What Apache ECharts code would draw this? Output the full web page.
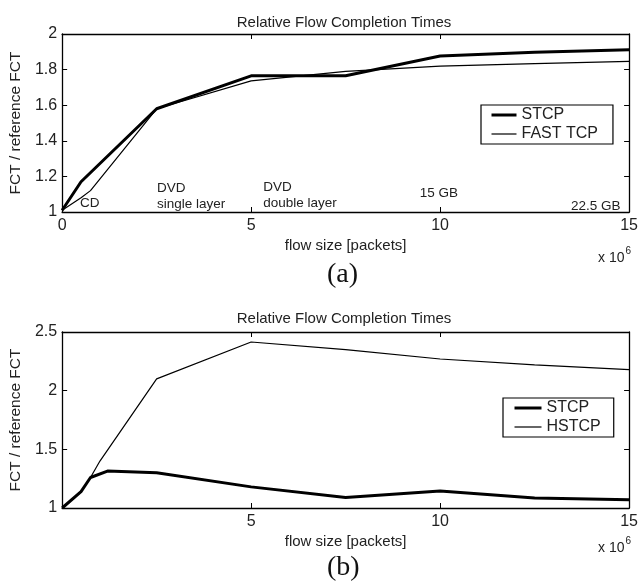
<!DOCTYPE html>
<html>
<head>
<meta charset="utf-8">
<script src="https://cdn.jsdelivr.net/npm/echarts@6/dist/echarts.min.js"></script>
<style>
html,body{margin:0;padding:0;background:#fff;}
#chart{width:641px;height:585px;}
</style>
</head>
<body>
<div id="chart"></div>
<script>
// ---- data (x in units of 10^6 packets) ----
var titleText = 'Relative Flow Completion Times';
var xName = 'flow size [packets]';
var yName = 'FCT / reference FCT';
var stcpA = [[0,1.01],[0.5,1.17],[2.5,1.58],[5,1.765],[7.5,1.765],[10,1.876],[12.5,1.897],[15,1.912]];
var fastA = [[0,1.01],[0.5,1.08],[0.75,1.12],[2.5,1.58],[5,1.737],[7.5,1.79],[10,1.82],[12.5,1.834],[15,1.846]];
var stcpB = [[0,1.0],[0.5,1.14],[0.75,1.26],[1.2,1.315],[2.5,1.30],[5,1.18],[7.5,1.09],[10,1.145],[12.5,1.085],[15,1.07]];
var hstcpB = [[0,1.0],[0.5,1.14],[0.75,1.26],[1.0,1.40],[2.5,2.10],[5,2.415],[7.5,2.35],[10,2.27],[12.5,2.22],[15,2.18]];
var namesA = ['STCP','FAST TCP'];
var namesB = ['STCP','HSTCP'];
var annotationsA = [
  {text:'CD', x:0.47, y:1.05},
  {text:'DVD\nsingle layer', x:2.51, y:1.09},
  {text:'DVD\ndouble layer', x:5.32, y:1.092},
  {text:'15 GB', x:9.46, y:1.106},
  {text:'22.5 GB', x:13.46, y:1.03}
];
var panelLabels = ['(a)','(b)'];

var FONT = '"Liberation Sans", Arial, Helvetica, sans-serif';
var SERIF = '"Liberation Serif", "Times New Roman", serif';
var TXT = '#222';
var THICK = 3, THIN = 1.2;
var chart = echarts.init(document.getElementById('chart'), null, {renderer:'canvas'});

function xAxes(gi, hideZero){
  return [{
    type:'value', gridIndex:gi, min:0, max:15, interval:5, position:'bottom',
    name: xName, nameLocation:'middle', nameGap:26,
    nameTextStyle:{fontFamily:FONT, fontSize:15, color:TXT},
    axisLine:{show:true, onZero:false, lineStyle:{color:'#000', width:1.3}},
    axisTick:{show:true, inside:true, length:5, lineStyle:{color:'#000'}},
    axisLabel:{fontFamily:FONT, fontSize:16, color:TXT, margin:6,
      formatter:function(v){ return (hideZero && v===0) ? '' : String(v); }},
    splitLine:{show:false}
  },{
    type:'value', gridIndex:gi, min:0, max:15, interval:5, position:'top',
    axisLine:{show:true, onZero:false, lineStyle:{color:'#000', width:1.3}},
    axisTick:{show:true, inside:true, length:5, lineStyle:{color:'#000'}},
    axisLabel:{show:false}, splitLine:{show:false}
  }];
}
function yAxes(gi, min, max, interval){
  return [{
    type:'value', gridIndex:gi, min:min, max:max, interval:interval, position:'left',
    name: yName, nameLocation:'middle', nameGap:34, nameRotate:90,
    nameTextStyle:{fontFamily:FONT, fontSize:15.5, color:TXT},
    axisLine:{show:true, onZero:false, lineStyle:{color:'#000', width:1.3}},
    axisTick:{show:true, inside:true, length:5, lineStyle:{color:'#000'}},
    axisLabel:{fontFamily:FONT, fontSize:16, color:TXT, margin:5,
      formatter:function(v){ return String(Math.round(v*10)/10); }},
    splitLine:{show:false}
  },{
    type:'value', gridIndex:gi, min:min, max:max, interval:interval, position:'right',
    axisLine:{show:true, onZero:false, lineStyle:{color:'#000', width:1.3}},
    axisTick:{show:true, inside:true, length:5, lineStyle:{color:'#000'}},
    axisLabel:{show:false}, splitLine:{show:false}
  }];
}
function line(name, data, xi, yi, w){
  return {type:'line', name:name, data:data, xAxisIndex:xi, yAxisIndex:yi,
    symbol:'none', showSymbol:false, animation:false, silent:true,
    lineStyle:{color:'#000', width:w}, itemStyle:{color:'#000'}};
}
function legend(names, left, top, iw, pad){
  return {show:true, orient:'vertical', left:left, top:top,
    data:[
      {name:names[0], lineStyle:{width:THICK, color:'#000'}, itemStyle:{opacity:0, borderWidth:0}},
      {name:names[1], lineStyle:{width:THIN, color:'#000'}, itemStyle:{opacity:0, borderWidth:0}}
    ],
    itemWidth:iw, itemHeight:14, itemGap:3, padding:pad,
    backgroundColor:'#fff', borderColor:'#000', borderWidth:1.2, selectedMode:false,
    itemStyle:{opacity:0, borderWidth:0},
    textStyle:{fontFamily:FONT, fontSize:16, color:TXT}};
}

var option = {
  animation:false,
  backgroundColor:'#fff',
  title:[
    {text:titleText, left:339, top:10, textAlign:'center',
     textStyle:{fontFamily:FONT, fontSize:15, fontWeight:'normal', color:TXT}},
    {text:titleText, left:339, top:306, textAlign:'center',
     textStyle:{fontFamily:FONT, fontSize:15, fontWeight:'normal', color:TXT}}
  ],
  grid:[
    {left:59, top:34, width:575, height:178},
    {left:59, top:332, width:575, height:176}
  ],
  xAxis: xAxes(0,false).concat(xAxes(1,true)),
  yAxis: yAxes(0,1,2,0.2).concat(yAxes(1,1,2.5,0.5)),
  legend:[ legend(namesA, 481, 105, 25, [2,15,2,9]), legend(namesB, 503, 398, 27, [2,13,2,10]) ],
  series:[
    line(namesA[0], stcpA, 0, 0, THICK),
    line(namesA[1], fastA, 0, 0, THIN),
    line(namesB[0], stcpB, 2, 2, THICK),
    line(namesB[1], hstcpB, 2, 2, THIN)
  ]
};
chart.setOption(option);

// annotations, placed through the axes' own scale
var g = [];
annotationsA.forEach(function(a){
  var p = chart.convertToPixel({xAxisIndex:0, yAxisIndex:0}, [a.x, a.y]);
  g.push({type:'text', x:p[0], y:p[1], silent:true,
    style:{text:a.text, fontFamily:FONT, fontSize:13.5, fill:TXT, lineHeight:16,
      verticalAlign:'middle', align:'left'}});
});
// exponent labels and panel labels
var expY = [246, 536];
expY.forEach(function(y){
  g.push({type:'text', left:598, top:y, silent:true,
    style:{text:'{b|x 10}{s|6}', rich:{b:{fontFamily:FONT, fontSize:14, fill:TXT, verticalAlign:'bottom'},
      s:{fontFamily:FONT, fontSize:10, fill:TXT, padding:[0,0,9,1]}}}});
});
g.push({type:'text', left:327, top:261, silent:true,
  style:{text:panelLabels[0], fontFamily:SERIF, fontSize:28, fill:'#111'}});
g.push({type:'text', left:327, top:554, silent:true,
  style:{text:panelLabels[1], fontFamily:SERIF, fontSize:28, fill:'#111'}});
chart.setOption({graphic:g});
</script>
</body>
</html>
